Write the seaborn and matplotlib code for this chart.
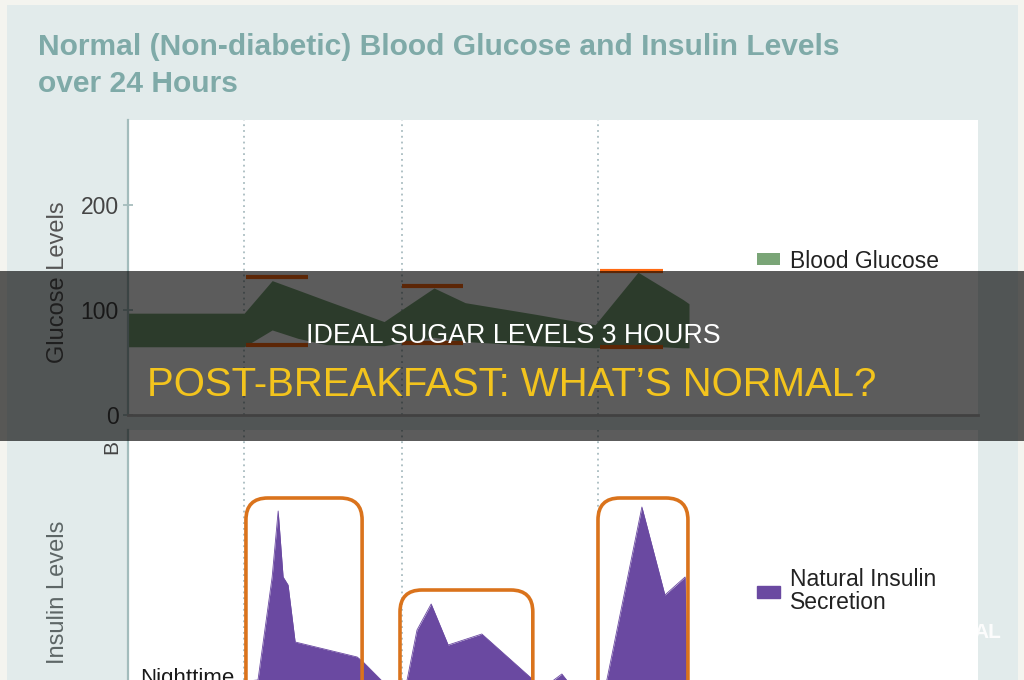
import numpy as np
import matplotlib
matplotlib.use("Agg")
import matplotlib.pyplot as plt
from matplotlib.patches import Rectangle, FancyBboxPatch, Patch
import seaborn as sns

# hours across the 24h chart
meal_times = [3.28, 7.74, 13.27]

# blood glucose band (mg/dL)
gl_hours = [0, 3.28, 4.07, 4.8, 5.6, 7.23, 8.64, 9.52, 11.5, 13.19, 14.4, 15.67, 15.84]
gl_high = [97, 97, 128, 119, 109, 89, 121, 107, 96, 86, 136, 110, 106]
gl_low = [65, 65, 81, 73, 67, 66, 74, 70, 66, 64, 66, 64, 64]

# post-meal range markers
range_start = [3.33, 7.74, 13.33]
range_end = [5.08, 9.46, 15.10]
range_high = [131, 123, 137]
range_low = [67, 69, 65]

# insulin secretion (arbitrary units)
ins_hours = [0, 3.67, 4.07, 4.24, 4.38, 4.52, 4.72, 6.47, 6.64, 7.2, 7.54, 7.88, 8.16, 8.56,
             9.04, 9.99, 11.35, 11.72, 12.25, 12.56, 13.27, 13.52, 14.51, 15.16, 15.73, 15.79, 24]
ins_vals = [4, 10, 61.5, 94.5, 61.5, 57.5, 29, 21.5, 19, 9, 4, 10, 35, 48,
            27.5, 33, 11.5, 6, 13, 6, 3, 10, 96.5, 52.5, 61.5, 0, 0]

# meal response windows drawn as rounded boxes
box_start = [3.33, 7.68, 13.27]
box_end = [6.61, 11.43, 15.81]
box_top = [101, 55, 101]

sns.set_theme(style="white")
plt.rcParams["font.family"] = ["Liberation Sans", "DejaVu Sans"]

W, H = 1024, 680
def fx(px):
    return px / W
def fy(py):
    return 1 - py / H

fig = plt.figure(figsize=(10.24, 6.8), dpi=100, facecolor="#f4f4ef")
fig.add_artist(Rectangle((fx(7), 0), fx(1018) - fx(7), fy(5), transform=fig.transFigure,
                         fc="#e2ebeb", lw=0, zorder=-5))

ax1 = fig.add_axes([fx(128), fy(415), fx(978) - fx(128), fy(120) - fy(415)])
ax2 = fig.add_axes([fx(128), 0, fx(978) - fx(128), fy(430)])

green = "#7aa577"
purple = "#6a49a1"
orange = "#da731c"
dots = "#a9bcc0"

# --- glucose panel
ax1.fill_between(gl_hours, gl_low, gl_high, color=green, lw=0, label="Blood Glucose")
ax1.hlines(range_high, range_start, range_end, color="#ff6a12", lw=3)
ax1.hlines(range_low, range_start, range_end, color="#ff6a12", lw=3)
for t in meal_times:
    ax1.axvline(t, color=dots, lw=1.3, ls=(0, (1, 2.2)), zorder=0)
ax1.set_xlim(0, 24)
ax1.set_ylim(0, 281)
ax1.set_yticks([0, 100, 200])
ax1.set_xticks([])
ax1.tick_params(axis="y", direction="inout", length=7, width=1.2, color="#9fb8b8",
                labelsize=16.5, labelcolor="#444444", pad=3, left=True)
sns.despine(ax=ax1)
ax1.spines["left"].set_color("#a3bcbc")
ax1.spines["left"].set_linewidth(1.6)
ax1.spines["bottom"].set_color("#b5b5b5")
ax1.spines["bottom"].set_linewidth(2)

# --- insulin panel
sns.lineplot(x=ins_hours, y=ins_vals, ax=ax2, color=purple, lw=0.6, estimator=None, sort=False)
ax2.fill_between(ins_hours, -20, ins_vals, color=purple, lw=0, label="Natural Insulin\nSecretion")
for t in meal_times:
    ax2.axvline(t, color=dots, lw=1.3, ls=(0, (1, 2.2)), zorder=0)
x_per_px = 24 / 850
y_per_px = 0.5
for x0, x1, top in zip(box_start, box_end, box_top):
    ax2.add_patch(FancyBboxPatch((x0, -20), x1 - x0, top + 20,
                                 boxstyle="round,pad=0,rounding_size=0.62",
                                 mutation_aspect=y_per_px / x_per_px,
                                 fc="none", ec=orange, lw=2.6, zorder=3))
ax2.set_xlim(0, 24)
ax2.set_ylim(10, 135)
ax2.set_xticks([])
ax2.set_yticks([])
sns.despine(ax=ax2, bottom=True)
ax2.spines["left"].set_color("#a3bcbc")
ax2.spines["left"].set_linewidth(1.6)
ax2.text(0.34, 16, "Nighttime", fontsize=16, color="#1a1a1a", va="top")

# axis labels
fig.text(fx(58), fy(282), "Glucose Levels", rotation=90, ha="center", va="center",
         fontsize=17, color="#555555")
fig.text(fx(58), fy(592), "Insulin Levels", rotation=90, ha="center", va="center",
         fontsize=17, color="#5d6666")
fig.text(fx(112), fy(447), "B", rotation=90, ha="center", va="center",
         fontsize=15, color="#444444")

# legends
leg1 = ax1.legend(loc="center left", bbox_to_anchor=(fx(757), fy(261)),
                  bbox_transform=fig.transFigure, frameon=False, borderpad=0,
                  borderaxespad=0, handlelength=1.0, handleheight=0.45,
                  handletextpad=0.45, fontsize=16.5, labelcolor="#222222")
leg2 = ax2.legend(handles=[Patch(color=purple, label="Natural Insulin\nSecretion")],
                  loc="center left", bbox_to_anchor=(fx(757), fy(591)),
                  bbox_transform=fig.transFigure, frameon=False, borderpad=0,
                  borderaxespad=0, handlelength=1.0, handleheight=0.45,
                  handletextpad=0.45, fontsize=16.5, labelcolor="#222222")
for t in leg2.get_texts():
    t.set_linespacing(0.95)

# chart title
fig.text(fx(38), fy(55), "Normal (Non-diabetic) Blood Glucose and Insulin Levels",
         fontsize=21.6, weight="bold", color="#7faaa8", va="baseline")
fig.text(fx(38), fy(92), "over 24 Hours", fontsize=21.6, weight="bold",
         color="#7faaa8", va="baseline")

fig.text(fx(987), fy(633), "AL", fontsize=15, weight="bold", color="white",
         ha="center", va="center", alpha=0.9)

# dark banner with headline
fig.add_artist(Rectangle((0, fy(441)), 1, fy(271) - fy(441), transform=fig.transFigure,
                         fc="black", lw=0, alpha=0.64, zorder=5))
fig.text(fx(513), fy(343), "IDEAL SUGAR LEVELS 3 HOURS", ha="center", va="baseline",
         fontsize=19.3, color="white", zorder=6)
fig.text(fx(512), fy(396), "POST-BREAKFAST: WHAT\u2019S NORMAL?", ha="center",
         va="baseline", fontsize=28.9, color="#f3c41d", zorder=6)

fig.savefig("out.png", dpi=100, facecolor=fig.get_facecolor())
